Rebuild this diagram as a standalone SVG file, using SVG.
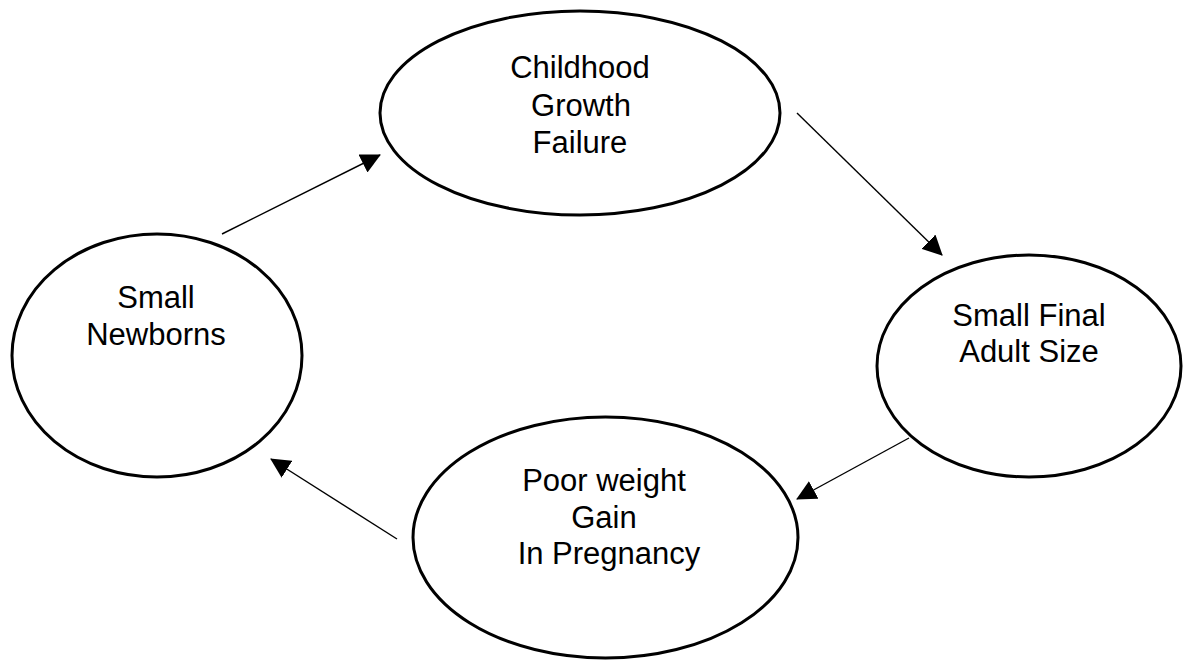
<svg xmlns="http://www.w3.org/2000/svg" width="1183" height="661" viewBox="0 0 1183 661">
<style>
.node ellipse{fill:#fff;stroke:#000;stroke-width:3}
.node text{font-family:"Liberation Sans",Arial,sans-serif;font-size:31px;fill:#000;text-anchor:middle}
.edges line{stroke:#000;stroke-width:1.4;marker-end:url(#ah)}
</style>
<defs>
<marker id="ah" markerUnits="userSpaceOnUse" markerWidth="20" markerHeight="20" refX="19" refY="10" orient="auto" viewBox="0 0 20 20">
<path d="M0,0 L20,10 L0,20 Z" fill="#000"/>
</marker>
</defs>
<rect width="1183" height="661" fill="#fff"/>
<g id="node-childhood" class="node">
<ellipse cx="580" cy="113" rx="200" ry="102"/>
<text x="580" y="78">Childhood</text>
<text x="581" y="116">Growth</text>
<text x="580" y="153">Failure</text>
</g>
<g id="node-newborns" class="node">
<ellipse cx="157" cy="355.5" rx="145" ry="121.5"/>
<text x="156" y="308">Small</text>
<text x="156" y="345">Newborns</text>
</g>
<g id="node-adult" class="node">
<ellipse cx="1029" cy="366" rx="152" ry="111"/>
<text x="1029" y="326">Small Final</text>
<text x="1029" y="362">Adult Size</text>
</g>
<g id="node-pregnancy" class="node">
<ellipse cx="605.5" cy="537.5" rx="192.5" ry="120.5"/>
<text x="604" y="491">Poor weight</text>
<text x="604" y="528">Gain</text>
<text x="609" y="564">In Pregnancy</text>
</g>
<g id="connectors" class="edges">
<line x1="222" y1="234" x2="380" y2="155"/>
<line x1="797" y1="113" x2="942" y2="255"/>
<line x1="909" y1="438" x2="797" y2="499"/>
<line x1="397" y1="539" x2="271" y2="459"/>
</g>
</svg>
